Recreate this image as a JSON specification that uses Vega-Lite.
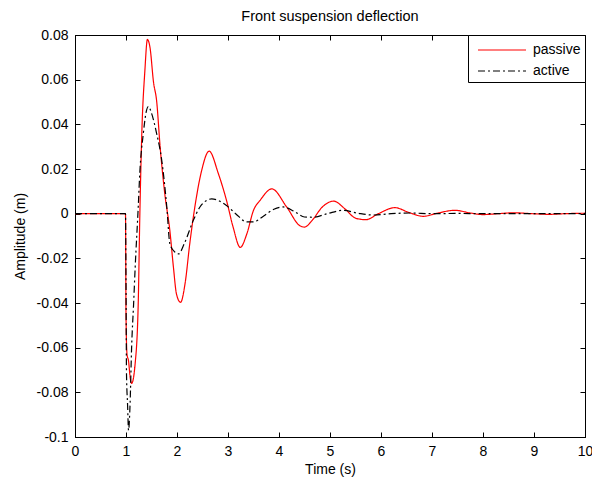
{
  "$schema": "https://vega.github.io/schema/vega-lite/v6.json",
  "width": 510,
  "height": 402,
  "autosize": "none",
  "padding": {"left": 75, "top": 35, "right": 7, "bottom": 43},
  "background": "white",
  "title": {"text": "Front suspension deflection", "fontSize": 14.5, "fontWeight": "normal", "font": "Liberation Sans", "color": "black", "offset": 4},
  "config": {
    "view": {"stroke": "black", "strokeWidth": 1},
    "axis": {"labelFont": "Liberation Sans", "labelFontSize": 14, "labelColor": "black", "titleFont": "Liberation Sans", "titleFontSize": 14, "titleFontWeight": "normal", "titleColor": "black", "domainColor": "black", "tickColor": "black", "grid": false, "tickSize": -5, "labelPadding": 12, "labelFlush": false, "labelOverlap": false},
    "legend": {"labelFont": "Liberation Sans", "labelFontSize": 14, "labelColor": "black"}
  },
  "data": {"values": [
    {"series": "passive", "t": 0, "v": 0},
    {"series": "passive", "t": 0.99, "v": 0},
    {"series": "passive", "t": 1.0, "v": -0.045},
    {"series": "passive", "t": 1.02, "v": -0.063},
    {"series": "passive", "t": 1.05, "v": -0.066},
    {"series": "passive", "t": 1.08, "v": -0.073},
    {"series": "passive", "t": 1.11, "v": -0.076},
    {"series": "passive", "t": 1.18, "v": -0.067},
    {"series": "passive", "t": 1.24, "v": -0.04},
    {"series": "passive", "t": 1.27, "v": -0.002},
    {"series": "passive", "t": 1.31, "v": 0.036},
    {"series": "passive", "t": 1.37, "v": 0.064},
    {"series": "passive", "t": 1.42, "v": 0.078},
    {"series": "passive", "t": 1.47, "v": 0.0745},
    {"series": "passive", "t": 1.54, "v": 0.0588},
    {"series": "passive", "t": 1.6, "v": 0.0506},
    {"series": "passive", "t": 1.67, "v": 0.0297},
    {"series": "passive", "t": 1.76, "v": 0.009},
    {"series": "passive", "t": 1.86, "v": -0.0076},
    {"series": "passive", "t": 1.93, "v": -0.024},
    {"series": "passive", "t": 1.99, "v": -0.036},
    {"series": "passive", "t": 2.07, "v": -0.0397},
    {"series": "passive", "t": 2.16, "v": -0.031},
    {"series": "passive", "t": 2.25, "v": -0.0135},
    {"series": "passive", "t": 2.35, "v": 0.003},
    {"series": "passive", "t": 2.48, "v": 0.019},
    {"series": "passive", "t": 2.63, "v": 0.028},
    {"series": "passive", "t": 2.81, "v": 0.018},
    {"series": "passive", "t": 2.97, "v": 0.006},
    {"series": "passive", "t": 3.1, "v": -0.006},
    {"series": "passive", "t": 3.24, "v": -0.0151},
    {"series": "passive", "t": 3.37, "v": -0.009},
    {"series": "passive", "t": 3.5, "v": 0.0015},
    {"series": "passive", "t": 3.63, "v": 0.006},
    {"series": "passive", "t": 3.86, "v": 0.0111},
    {"series": "passive", "t": 4.15, "v": 0.003},
    {"series": "passive", "t": 4.41, "v": -0.0054},
    {"series": "passive", "t": 4.5, "v": -0.006},
    {"series": "passive", "t": 4.65, "v": -0.003},
    {"series": "passive", "t": 4.85, "v": 0.003},
    {"series": "passive", "t": 5.07, "v": 0.0056},
    {"series": "passive", "t": 5.3, "v": 0.002},
    {"series": "passive", "t": 5.5, "v": -0.002},
    {"series": "passive", "t": 5.7, "v": -0.0027},
    {"series": "passive", "t": 5.95, "v": 0},
    {"series": "passive", "t": 6.27, "v": 0.0027},
    {"series": "passive", "t": 6.55, "v": 0.0005},
    {"series": "passive", "t": 6.83, "v": -0.0012},
    {"series": "passive", "t": 7.1, "v": 0.0002},
    {"series": "passive", "t": 7.45, "v": 0.0015},
    {"series": "passive", "t": 7.75, "v": 0.0003},
    {"series": "passive", "t": 8.0, "v": -0.0004},
    {"series": "passive", "t": 8.3, "v": 0},
    {"series": "passive", "t": 8.6, "v": 0.0004},
    {"series": "passive", "t": 8.95, "v": 0},
    {"series": "passive", "t": 9.3, "v": -0.0003},
    {"series": "passive", "t": 9.6, "v": 0},
    {"series": "passive", "t": 10, "v": 0.0002},
    {"series": "active", "t": 0, "v": 0},
    {"series": "active", "t": 0.99, "v": 0},
    {"series": "active", "t": 1.0, "v": -0.03},
    {"series": "active", "t": 1.01, "v": -0.072},
    {"series": "active", "t": 1.03, "v": -0.085},
    {"series": "active", "t": 1.05, "v": -0.097},
    {"series": "active", "t": 1.08, "v": -0.085},
    {"series": "active", "t": 1.11, "v": -0.06},
    {"series": "active", "t": 1.15, "v": -0.04},
    {"series": "active", "t": 1.18, "v": -0.024},
    {"series": "active", "t": 1.24, "v": 0.003},
    {"series": "active", "t": 1.27, "v": 0.018},
    {"series": "active", "t": 1.34, "v": 0.036},
    {"series": "active", "t": 1.4, "v": 0.046},
    {"series": "active", "t": 1.44, "v": 0.048},
    {"series": "active", "t": 1.5, "v": 0.045},
    {"series": "active", "t": 1.6, "v": 0.036},
    {"series": "active", "t": 1.7, "v": 0.024},
    {"series": "active", "t": 1.8, "v": 0.003},
    {"series": "active", "t": 1.86, "v": -0.0135},
    {"series": "active", "t": 1.95, "v": -0.017},
    {"series": "active", "t": 2.03, "v": -0.018},
    {"series": "active", "t": 2.15, "v": -0.013},
    {"series": "active", "t": 2.32, "v": -0.003},
    {"series": "active", "t": 2.45, "v": 0.003},
    {"series": "active", "t": 2.55, "v": 0.0055},
    {"series": "active", "t": 2.68, "v": 0.0066},
    {"series": "active", "t": 2.8, "v": 0.006},
    {"series": "active", "t": 2.97, "v": 0.0037},
    {"series": "active", "t": 3.15, "v": 0},
    {"series": "active", "t": 3.37, "v": -0.0037},
    {"series": "active", "t": 3.5, "v": -0.0037},
    {"series": "active", "t": 3.7, "v": -0.001},
    {"series": "active", "t": 3.9, "v": 0.002},
    {"series": "active", "t": 4.08, "v": 0.003},
    {"series": "active", "t": 4.3, "v": 0.001},
    {"series": "active", "t": 4.5, "v": -0.0015},
    {"series": "active", "t": 4.67, "v": -0.0016},
    {"series": "active", "t": 4.95, "v": 0},
    {"series": "active", "t": 5.26, "v": 0.0015},
    {"series": "active", "t": 5.55, "v": 0.0002},
    {"series": "active", "t": 5.84, "v": -0.0006},
    {"series": "active", "t": 6.2, "v": 0},
    {"series": "active", "t": 6.56, "v": 0.0003},
    {"series": "active", "t": 7.0, "v": 0},
    {"series": "active", "t": 7.5, "v": 0.0001},
    {"series": "active", "t": 8.0, "v": 0},
    {"series": "active", "t": 10, "v": 0}
  ]},
  "layer": [
    {
      "mark": {"type": "line", "strokeWidth": 1.2, "interpolate": "monotone"},
      "encoding": {
        "x": {"field": "t", "type": "quantitative", "scale": {"domain": [0, 10], "nice": false}, "axis": {"title": "Time (s)", "values": [0,1,2,3,4,5,6,7,8,9,10], "titlePadding": 4}},
        "y": {"field": "v", "type": "quantitative", "scale": {"domain": [-0.1, 0.08], "nice": false, "zero": false}, "axis": {"title": "Amplitude (m)", "values": [-0.1,-0.08,-0.06,-0.04,-0.02,0,0.02,0.04,0.06,0.08], "labelExpr": "datum.value == 0 ? '0' : replace(format(datum.value, '.2~f'), '−', '-')", "titlePadding": 9}},
        "color": {"field": "series", "type": "nominal", "scale": {"domain": ["passive", "active"], "range": ["#ff0000", "#000000"]}, "legend": {"title": null, "orient": "top-right", "offset": 0, "strokeColor": "black", "fillColor": "white", "padding": 4, "symbolType": "M-0.5,0H4.3", "symbolSize": 400, "symbolStrokeWidth": 1.2, "rowPadding": 3, "labelOffset": 39}},
        "strokeDash": {"field": "series", "type": "nominal", "scale": {"domain": ["passive", "active"], "range": [[1, 0], [7, 3, 2, 3]]}, "legend": {"title": null, "orient": "top-right", "offset": 0, "strokeColor": "black", "fillColor": "white", "padding": 4, "symbolType": "M-0.5,0H4.3", "symbolSize": 400, "symbolStrokeWidth": 1.2, "rowPadding": 3, "labelOffset": 39}}
      }
    },
    {
      "mark": {"type": "line", "opacity": 0},
      "encoding": {
        "x": {"field": "t", "type": "quantitative", "scale": {"domain": [0, 10], "nice": false}, "axis": {"orient": "top", "title": null, "labels": false, "values": [0,1,2,3,4,5,6,7,8,9,10]}},
        "y": {"field": "v", "type": "quantitative", "scale": {"domain": [-0.1, 0.08], "nice": false, "zero": false}, "axis": {"orient": "right", "title": null, "labels": false, "values": [-0.1,-0.08,-0.06,-0.04,-0.02,0,0.02,0.04,0.06,0.08]}}
      }
    }
  ],
  "resolve": {"axis": {"x": "independent", "y": "independent"}}
}
